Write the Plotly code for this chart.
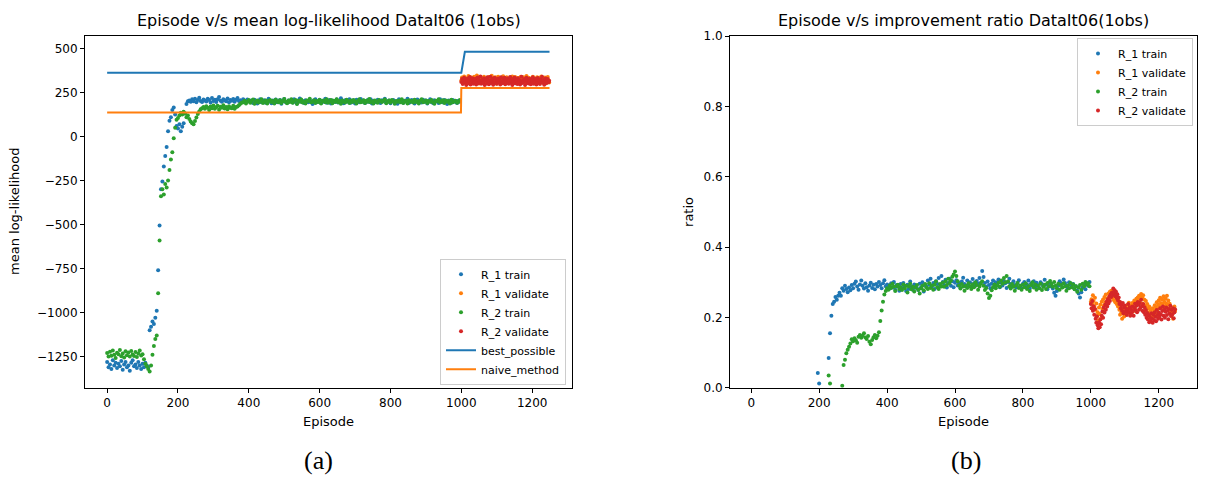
import plotly.graph_objects as go

# ---------------- DATA ----------------
# Left panel: mean log-likelihood
ep_train = list(range(0, 1000, 4))
ep_valid = list(range(1000, 1250, 2))

ll_r1_train = [
    -1280,-1310,-1295,-1320,-1270,-1300,-1285,-1315,-1290,-1305,-1275,-1325,-1295,-1280,
    -1310,-1300,-1330,-1285,-1270,-1305,-1295,-1315,-1280,-1300,-1320,-1290,-1310,-1285,
    -1300,-1310,-1100,-1080,-1050,-1065,-1030,-990,-760,-505,-300,-255,-170,-110,-60,30,
    90,110,150,165,125,60,45,70,30,55,75,130,185,200,
    205,198,212,200,215,195,208,220,202,196,210,204,199,214,207,193,218,201,209,196,212,225,
    203,198,211,206,200,216,194,208,203,213,197,209,219,201,206,195,212,204,199,210,203,
    196,204,191,209,199,187,203,212,195,200,206,192,198,215,201,189,205,197,210,194,
    199,207,186,202,213,196,191,204,200,208,193,211,198,188,205,216,197,202,190,206,
    201,195,209,199,185,204,212,194,200,207,190,203,197,214,192,199,208,188,205,201,
    196,210,193,202,217,195,189,206,200,198,211,192,204,197,187,209,201,194,213,199,
    205,190,198,207,196,212,188,203,200,194,209,197,191,206,201,215,193,199,204,189,
    202,208,195,200,186,211,197,205,192,203,199,214,190,196,207,201,188,204,210,195,
    200,193,209,198,205,187,202,212,196,191,206,199,203,190,211,197,194,208,200,185,
    204,198,192,207,201,196,190,203,197,
]
ll_r2_train = [
    -1230,-1250,-1222,-1245,-1215,-1240,-1258,-1228,-1236,-1212,-1248,-1233,-1255,-1220,
    -1242,-1226,-1250,-1218,-1238,-1246,-1224,-1252,-1232,-1216,-1244,-1236,
    -1265,-1290,-1305,-1320,-1335,-1300,-1240,-1190,-1150,-1130,-890,-590,-340,-300,-330,
    -270,-290,-250,-190,-130,-90,-10,50,95,105,120,135,125,140,130,110,120,
    100,85,75,70,88,108,128,142,155,
    160,168,158,172,163,150,170,161,176,157,166,174,152,169,163,178,159,167,155,172,164,
    160,175,158,168,171,178,186,192,
    195,203,188,199,207,192,201,210,186,198,204,193,199,212,190,197,205,188,201,208,
    196,202,187,209,199,194,206,191,200,213,198,189,204,196,211,192,200,207,185,203,
    197,210,193,199,188,205,201,214,194,198,206,190,202,196,209,187,200,204,195,211,
    192,199,207,189,203,198,212,194,201,186,205,197,193,209,200,191,204,196,208,199,
    188,202,211,195,198,206,190,203,197,213,194,200,187,205,199,192,208,201,196,203,
    210,189,198,204,193,207,200,186,202,197,205,195,212,191,199,203,188,206,198,201,
    193,209,196,200,187,204,211,194,199,205,190,202,197,208,195,186,203,200,212,193,
    199,206,191,204,197,201,188,209,195,200,203,192,198,207,
]
ll_r1_valid = [
    318,335,306,327,341,312,322,299,331,316,344,309,325,337,303,320,329,314,339,308,
    326,318,347,311,332,301,324,336,315,329,305,321,340,313,328,319,334,302,323,338,
    310,327,316,345,307,322,331,314,336,319,300,325,339,312,328,317,333,304,321,342,
    315,330,309,324,337,311,326,303,318,335,322,307,341,316,329,313,338,320,306,327,
    332,318,301,325,340,314,323,309,336,319,328,311,343,305,321,334,317,326,308,331,
    320,339,312,324,302,329,315,337,310,322,333,306,318,341,313,327,304,320,335,316,
    325,310,338,319,307,
]
ll_r2_valid = [
    309,326,298,318,334,305,321,292,313,329,302,317,338,296,324,311,331,300,319,307,
    328,296,314,335,303,322,309,341,299,316,323,306,331,293,318,327,301,336,312,297,
    320,339,304,315,328,294,310,333,307,325,299,317,330,308,321,295,337,313,303,326,
    311,334,297,319,306,329,314,300,322,338,305,318,292,327,311,335,302,316,324,298,
    331,308,321,296,314,339,304,320,310,327,293,316,333,306,319,301,328,312,297,323,
    315,336,300,322,309,326,295,317,332,304,319,298,325,311,340,307,321,294,313,330,
    303,318,327,308,316,
]
best_ep = [0, 1000, 1010, 1249]
best_val = [362, 362, 481, 481]
naive_ep = [0, 999, 1000, 1249]
naive_val = [137, 137, 276, 276]

# Right panel: improvement ratio
ep_ratio_r1 = list(range(196, 1000, 4))
ep_ratio_r2 = list(range(228, 1000, 4))
ratio_r1_train = [
    0.042,0.012,-0.05,-0.1,-0.15,-0.12,-0.08,-0.02,0.085,0.155,0.205,0.238,
    0.245,0.258,0.25,0.262,0.27,0.262,0.283,0.276,0.29,0.281,0.272,0.285,0.277,0.292,
    0.283,0.296,0.302,0.288,0.279,0.294,0.305,0.29,0.282,0.297,0.286,0.276,0.291,0.299,
    0.284,0.293,0.28,0.295,0.288,0.301,0.292,0.283,0.297,0.306,0.289,0.294,
    0.29,0.282,0.297,0.286,0.301,0.279,0.292,0.288,0.276,0.295,
    0.284,0.298,0.289,0.275,0.293,0.281,0.302,0.287,0.279,0.294,
    0.29,0.283,0.278,0.296,0.285,0.3,0.274,0.291,0.287,0.305,
    0.293,0.31,0.288,0.298,0.281,0.303,0.295,0.312,0.289,0.318,
    0.301,0.292,0.307,0.285,0.298,0.31,0.29,0.303,0.286,0.299,
    0.306,0.291,0.297,0.284,0.302,0.313,0.295,0.288,0.305,0.293,
    0.3,0.286,0.309,0.297,0.29,0.304,0.296,0.312,0.299,0.332,
    0.315,0.298,0.287,0.302,0.292,0.283,0.296,0.305,0.289,0.3,
    0.293,0.308,0.286,0.299,0.291,0.304,0.297,0.284,0.301,0.31,
    0.295,0.288,0.303,0.292,0.285,0.298,0.306,0.29,0.283,0.296,
    0.301,0.287,0.294,0.305,0.282,0.297,0.29,0.303,0.286,0.299,
    0.292,0.284,0.3,0.295,0.288,0.307,0.293,0.28,0.298,0.289,
    0.296,0.282,0.27,0.262,0.275,0.29,0.303,0.297,0.286,0.308,
    0.298,0.291,0.284,0.3,0.293,0.287,0.295,0.281,0.289,0.276,
    0.268,0.257,0.272,0.285,0.293,0.28,0.297,0.29,0.301,
]
ratio_r2_train = [
    0.035,0.012,-0.03,-0.08,-0.12,-0.1,-0.07,-0.05,-0.03,-0.01,
    0.006,0.065,0.08,0.098,0.108,0.117,0.126,0.138,0.132,0.141,
    0.135,0.128,0.145,0.15,0.142,0.148,0.155,0.143,0.139,0.147,
    0.131,0.124,0.136,0.144,0.15,0.141,0.148,0.158,0.19,0.22,
    0.245,0.265,0.275,0.283,
    0.279,0.291,0.284,0.296,0.287,0.275,0.289,0.293,0.281,0.286,
    0.278,0.294,0.283,0.29,0.271,0.288,0.296,0.28,0.287,0.274,
    0.285,0.292,0.279,0.268,0.283,0.29,0.277,0.295,0.286,0.281,
    0.297,0.284,0.291,0.279,0.293,0.302,0.286,0.281,0.295,0.288,
    0.299,0.287,0.303,0.292,0.31,0.298,0.305,0.316,0.322,0.331,
    0.318,0.303,0.291,0.282,0.295,0.288,0.276,0.29,0.284,0.297,
    0.289,0.281,0.294,0.286,0.3,0.292,0.279,0.288,0.296,0.303,
    0.29,0.278,0.284,0.268,0.255,0.262,0.277,0.286,0.294,0.283,
    0.291,0.299,0.287,0.305,0.296,0.312,0.3,0.318,0.302,0.289,
    0.282,0.295,0.287,0.276,0.291,0.298,0.284,0.29,0.279,0.293,
    0.286,0.297,0.281,0.289,0.275,0.292,0.3,0.285,0.294,0.279,
    0.29,0.283,0.296,0.278,0.287,0.293,0.281,0.298,0.288,0.304,
    0.295,0.287,0.301,0.29,0.283,0.296,0.279,0.292,0.285,0.297,
    0.288,0.276,0.291,0.283,0.298,0.286,0.294,0.28,0.289,0.273,
    0.285,0.292,0.279,0.296,0.288,0.301,0.294,0.297,0.289,
]
ratio_r1_valid = [
    0.245,0.252,0.238,0.263,0.247,0.231,0.256,0.222,0.24,0.205,
    0.215,0.192,0.228,0.21,0.236,0.198,0.245,0.224,0.251,0.233,
    0.258,0.242,0.265,0.236,0.254,0.247,0.268,0.252,0.273,0.259,
    0.276,0.262,0.255,0.27,0.249,0.265,0.243,0.258,0.238,0.252,
    0.231,0.246,0.222,0.208,0.227,0.215,0.196,0.212,0.225,0.203,
    0.218,0.231,0.209,0.224,0.236,0.214,0.242,0.228,0.219,0.233,
    0.226,0.241,0.217,0.235,0.248,0.229,0.244,0.253,0.238,0.257,
    0.245,0.262,0.249,0.258,0.267,0.24,0.255,0.263,0.236,0.25,
    0.232,0.247,0.221,0.238,0.226,0.214,0.231,0.207,0.222,0.198,
    0.213,0.226,0.204,0.219,0.235,0.211,0.228,0.243,0.222,0.236,
    0.249,0.232,0.256,0.241,0.227,0.252,0.238,0.26,0.245,0.231,
    0.254,0.24,0.262,0.236,0.248,0.226,0.239,0.215,0.23,0.205,
    0.222,0.196,0.214,0.231,0.218,
]
ratio_r2_valid = [
    0.238,0.226,0.247,0.219,0.232,0.208,0.224,0.196,0.185,0.203,
    0.178,0.169,0.186,0.172,0.194,0.181,0.205,0.217,0.199,0.228,
    0.214,0.236,0.222,0.245,0.231,0.252,0.24,0.259,0.247,0.265,
    0.258,0.271,0.264,0.282,0.268,0.277,0.26,0.273,0.255,0.266,
    0.248,0.257,0.238,0.244,0.226,0.235,0.219,0.241,0.212,0.228,
    0.234,0.216,0.225,0.207,0.221,0.238,0.214,0.229,0.205,0.222,
    0.213,0.231,0.218,0.205,0.227,0.239,0.221,0.233,0.215,0.244,
    0.236,0.222,0.241,0.228,0.25,0.232,0.219,0.238,0.215,0.229,
    0.208,0.221,0.199,0.213,0.194,0.206,0.186,0.201,0.19,0.212,
    0.197,0.185,0.208,0.193,0.215,0.202,0.189,0.221,0.207,0.196,
    0.214,0.203,0.226,0.209,0.194,0.218,0.231,0.205,0.222,0.199,
    0.216,0.228,0.207,0.219,0.195,0.224,0.211,0.233,0.204,0.221,
    0.209,0.226,0.198,0.215,0.223,
]

x_ticks = [0, 200, 400, 600, 800, 1000, 1200]
ll_ticks = [-1250, -1000, -750, -500, -250, 0, 250, 500]
ll_ticktext = ["\u22121250", "\u22121000", "\u2212750", "\u2212500", "\u2212250", "0", "250", "500"]
ratio_ticks = [0.0, 0.2, 0.4, 0.6, 0.8, 1.0]
ratio_ticktext = ["0.0", "0.2", "0.4", "0.6", "0.8", "1.0"]

# ---------------- STYLE ----------------
BLUE, ORANGE, GREEN, RED = "#1f77b4", "#ff7f0e", "#2ca02c", "#d62728"
FONT = "DejaVu Sans"
W, H = 1225, 489
MS = 4

def px_x(p):
    return p / W

def px_y(p):
    return (H - p) / H

fig = go.Figure()

def pts(x, y, name, color, xa, ya, legend):
    fig.add_trace(go.Scatter(
        x=x, y=y, mode="markers", name=name, xaxis=xa, yaxis=ya, legend=legend,
        marker=dict(color=color, size=MS, line=dict(width=0)),
    ))

pts(ep_train, ll_r1_train, "R_1 train", BLUE, "x", "y", "legend")
pts(ep_valid, ll_r1_valid, "R_1 validate", ORANGE, "x", "y", "legend")
pts(ep_train, ll_r2_train, "R_2 train", GREEN, "x", "y", "legend")
pts(ep_valid, ll_r2_valid, "R_2 validate", RED, "x", "y", "legend")
fig.add_trace(go.Scatter(x=best_ep, y=best_val, mode="lines", name="best_possible",
                         line=dict(color=BLUE, width=2), xaxis="x", yaxis="y", legend="legend"))
fig.add_trace(go.Scatter(x=naive_ep, y=naive_val, mode="lines", name="naive_method",
                         line=dict(color=ORANGE, width=2), xaxis="x", yaxis="y", legend="legend"))

pts(ep_ratio_r1, ratio_r1_train, "R_1 train", BLUE, "x2", "y2", "legend2")
pts(ep_valid, ratio_r1_valid, "R_1 validate", ORANGE, "x2", "y2", "legend2")
pts(ep_ratio_r2, ratio_r2_train, "R_2 train", GREEN, "x2", "y2", "legend2")
pts(ep_valid, ratio_r2_valid, "R_2 validate", RED, "x2", "y2", "legend2")

axis_common = dict(
    showline=True, linecolor="black", linewidth=1, mirror=True,
    ticks="outside", ticklen=4, tickwidth=1, tickcolor="black",
    showgrid=False, zeroline=False,
    tickfont=dict(family=FONT, size=12, color="black"),
)

ydom = [px_y(392), px_y(30)]
leg_common = dict(bgcolor="rgba(255,255,255,0.8)", bordercolor="#cccccc", borderwidth=1,
                  font=dict(family=FONT, size=11, color="black"), tracegroupgap=0)
fig.update_layout(
    width=W, height=H,
    margin=dict(l=0, r=0, t=0, b=0),
    paper_bgcolor="white", plot_bgcolor="white",
    font=dict(family=FONT, size=12, color="black"),
    xaxis=dict(domain=[px_x(85), px_x(572)], range=[-62.5, 1312.5], anchor="y",
               tickvals=x_ticks, **axis_common),
    yaxis=dict(domain=ydom, range=[-1427, 570], anchor="x",
               tickvals=ll_ticks, ticktext=ll_ticktext, **axis_common),
    xaxis2=dict(domain=[px_x(730), px_x(1197)], range=[-62.5, 1312.5], anchor="y2",
                tickvals=x_ticks, **axis_common),
    yaxis2=dict(domain=ydom, range=[0, 1], anchor="x2",
                tickvals=ratio_ticks, ticktext=ratio_ticktext, **axis_common),
    legend=dict(x=px_x(566), xanchor="right", y=px_y(389), yanchor="bottom", **leg_common),
    legend2=dict(x=px_x(1193), xanchor="right", y=px_y(32), yanchor="top", **leg_common),
    showlegend=True,
)

def ann(text, x, y, size=12, angle=0, family=FONT):
    fig.add_annotation(text=text, x=px_x(x), y=px_y(y), xref="paper", yref="paper",
                       showarrow=False, textangle=angle, xanchor="center", yanchor="middle",
                       font=dict(family=family, size=size, color="black"))

ann("Episode v/s mean log-likelihood DataIt06 (1obs)", 328.5, 14, size=16)
ann("Episode v/s improvement ratio DataIt06(1obs)", 963.5, 14, size=16)
ann("Episode", 328.5, 427, size=13)
ann("Episode", 963.5, 427, size=13)
ann("mean log-likelihood", 15, 211, size=13, angle=-90)
ann("ratio", 689, 211, size=13, angle=-90)
ann("(a)", 318, 467, size=26, family="Liberation Serif")
ann("(b)", 966, 467, size=26, family="Liberation Serif")

fig.write_html("out.html")
